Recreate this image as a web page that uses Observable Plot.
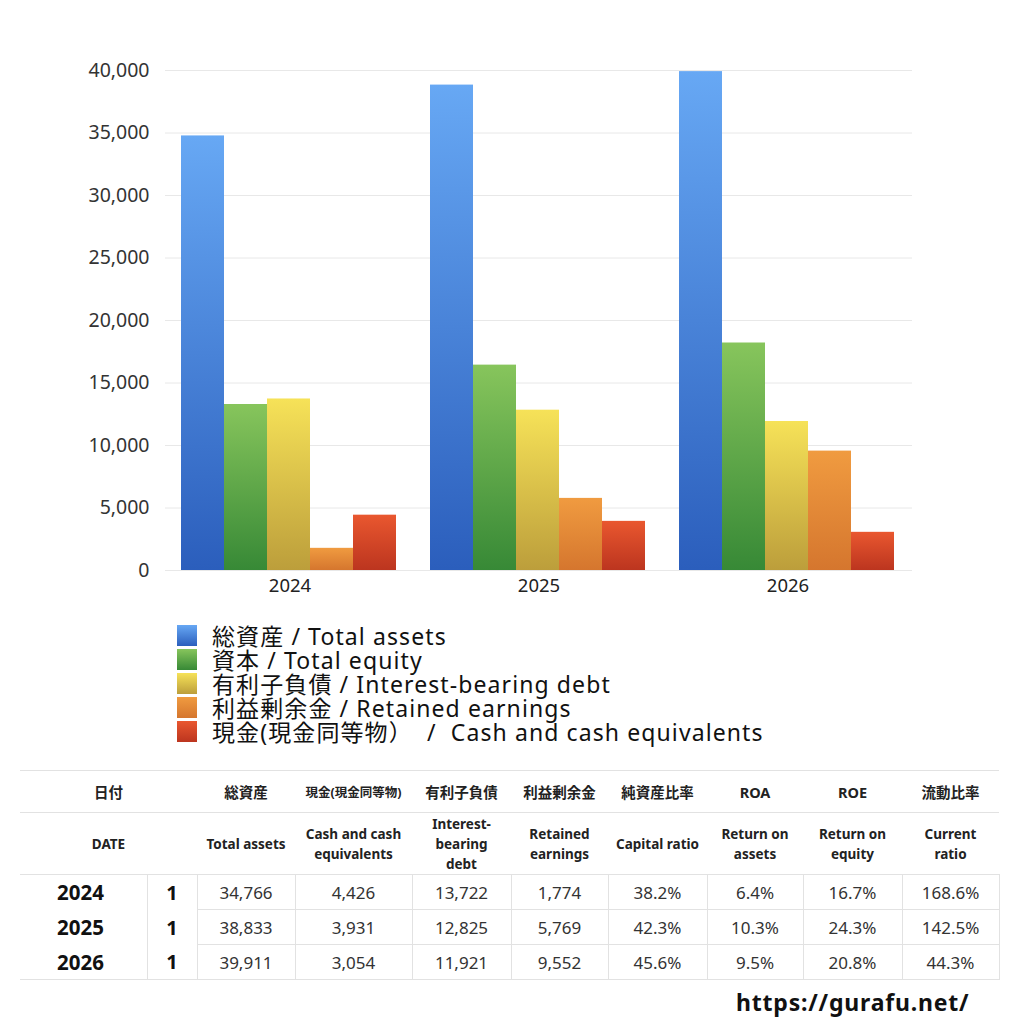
<!DOCTYPE html>
<html><head><meta charset="utf-8">
<script src="https://cdn.jsdelivr.net/npm/d3@7"></script>
<script src="https://cdn.jsdelivr.net/npm/@observablehq/plot@0.6"></script>
<style>
body{margin:0;background:#fff;font-family:"Noto Sans","Noto Sans CJK JP",sans-serif;color:#111;}
#wrap{position:relative;width:1024px;height:1024px;overflow:hidden;background:#fff;}
#chart{position:absolute;left:0;top:0;}
#legend{position:absolute;left:0;top:624px;}
.lrow{position:absolute;left:0;height:24px;white-space:pre;}
.lsw{position:absolute;left:177px;top:1px;width:20px;height:21px;}
.ltx{position:absolute;left:212px;top:0px;font-size:23px;line-height:24px;letter-spacing:1.1px;color:#111;}
#tbl{position:absolute;left:20px;top:770px;border-collapse:collapse;table-layout:fixed;width:979px;}
#tbl td{padding:0;text-align:center;vertical-align:middle;color:#222;}
#tbl tr.h1 td{height:41px;font-weight:bold;font-size:14.5px;border-top:1px solid #e2e2e2;border-bottom:1px solid #e2e2e2;}
#tbl tr.h2 td{height:61px;font-weight:bold;font-size:13.5px;line-height:20px;border-bottom:1px solid #e2e2e2;}
#tbl tr.d td{height:34px;font-size:17px;color:#333;}
#tbl tr.d td.v{border:1px solid #e2e2e2;}
#tbl tr.d td.yr{font-weight:bold;font-size:20.5px;color:#111;text-align:left;padding-left:37px;border-right:1px solid #e2e2e2;}
#tbl tr.d td.one{font-weight:bold;font-size:20px;color:#111;border-right:1px solid #e2e2e2;}
#tbl tr.d.last td{border-bottom:1px solid #e2e2e2;}
#footer{position:absolute;left:736px;top:986px;font-size:23px;letter-spacing:0.8px;font-weight:bold;color:#111;}
</style></head><body><div id="wrap"><div id="chart"></div><div id="legend"></div><table id="tbl"></table><div id="footer">https://gurafu.net/</div></div>
<script>
const years = ["2024", "2025", "2026"];
const seriesLabels = [
  "総資産 / Total assets",
  "資本 / Total equity",
  "有利子負債 / Interest-bearing debt",
  "利益剰余金 / Retained earnings",
  "現金(現金同等物）  /  Cash and cash equivalents"
];
const totalAssets = [34766, 38833, 39911];
const totalEquity = [13280, 16430, 18200];
const interestBearingDebt = [13722, 12825, 11921];
const retainedEarnings = [1774, 5769, 9552];
const cashEquivalents = [4426, 3931, 3054];
const capitalRatio = ["38.2%", "42.3%", "45.6%"];
const roa = ["6.4%", "10.3%", "9.5%"];
const roe = ["16.7%", "24.3%", "20.8%"];
const currentRatio = ["168.6%", "142.5%", "44.3%"];
const periodCount = ["1", "1", "1"];
const yTicks = [0, 5000, 10000, 15000, 20000, 25000, 30000, 35000, 40000];
const gradTop = ["#67a8f4", "#87c55c", "#f6e258", "#f09b40", "#e9572f"];
const gradBottom = ["#2b5ebc", "#378936", "#bc9e3b", "#d5762e", "#bc351f"];
const headJa = ["日付", "総資産", "現金(現金同等物)", "有利子負債", "利益剰余金", "純資産比率", "ROA", "ROE", "流動比率"];
const headEn = ["DATE", "Total assets", "Cash and cash<br>equivalents", "Interest-<br>bearing<br>debt", "Retained<br>earnings", "Capital ratio", "Return on<br>assets", "Return on<br>equity", "Current<br>ratio"];
const colWidths = [127, 50, 98, 117, 99, 97, 99, 96, 99, 97];

const seriesValues = [totalAssets, totalEquity, interestBearingDebt, retainedEarnings, cashEquivalents];
const keys = seriesLabels.map((d, i) => "s" + i);
const rows = [];
years.forEach((y, i) => seriesValues.forEach((vals, k) => rows.push({year: y, key: keys[k], value: vals[i]})));
const fmt = d3.format(",");

const chart = Plot.plot({
  width: 1024, height: 600,
  marginTop: 70, marginBottom: 30, marginLeft: 164, marginRight: 111,
  style: {fontFamily: '"Noto Sans", "Noto Sans CJK JP", sans-serif', background: "transparent", color: "#333"},
  fx: {domain: years, padding: 0, label: null},
  x: {domain: keys, paddingInner: 0, paddingOuter: 0.37, align: 0.48, axis: null},
  y: {domain: [0, 40000], label: null},
  color: {domain: keys, range: keys.map((k, i) => `url(#grad${i})`)},
  marks: [
    Plot.gridY(yTicks, {stroke: "#e8e8e8", strokeOpacity: 1}),
    Plot.axisY(yTicks, {tickSize: 0, tickPadding: 16, fontSize: 19.5, tickFormat: fmt, label: null, fill: "#333"}),
    Plot.barY(rows, {fx: "year", x: "key", y: "value", fill: "key"}),
    Plot.axisFx({anchor: "bottom", tickSize: 0, tickPadding: 8, fontSize: 18.5, label: null, fill: "#222"})
  ]
});
const defs = d3.select(chart).insert("defs", ":first-child");
keys.forEach((k, i) => {
  const g = defs.append("linearGradient").attr("id", "grad" + i).attr("x1", 0).attr("y1", 0).attr("x2", 0).attr("y2", 1);
  g.append("stop").attr("offset", "0%").attr("stop-color", gradTop[i]);
  g.append("stop").attr("offset", "100%").attr("stop-color", gradBottom[i]);
});
document.getElementById("chart").appendChild(chart);

const legend = d3.select("#legend");
seriesLabels.forEach((lab, i) => {
  const r = legend.append("div").attr("class", "lrow").style("top", (i * 24) + "px");
  r.append("div").attr("class", "lsw").style("background", `linear-gradient(${gradTop[i]}, ${gradBottom[i]})`);
  r.append("div").attr("class", "ltx").text(lab);
});

const tbl = d3.select("#tbl");
const cg = tbl.append("colgroup");
colWidths.forEach(w => cg.append("col").style("width", w + "px"));
const h1 = tbl.append("tr").attr("class", "h1");
headJa.forEach((t, i) => { const c = h1.append("td").html(t); if (i === 0) c.attr("colspan", 2); if (i === 2) c.style("font-size", "12.5px"); });
const h2 = tbl.append("tr").attr("class", "h2");
headEn.forEach((t, i) => { const c = h2.append("td").html(t); if (i === 0) c.attr("colspan", 2); });
years.forEach((y, i) => {
  const tr = tbl.append("tr").attr("class", "d" + (i === years.length - 1 ? " last" : ""));
  tr.append("td").attr("class", "yr").text(y);
  tr.append("td").attr("class", "one").text(periodCount[i]);
  [fmt(totalAssets[i]), fmt(cashEquivalents[i]), fmt(interestBearingDebt[i]), fmt(retainedEarnings[i]), capitalRatio[i], roa[i], roe[i], currentRatio[i]]
    .forEach(v => tr.append("td").attr("class", "v").text(v));
});
</script></body></html>
